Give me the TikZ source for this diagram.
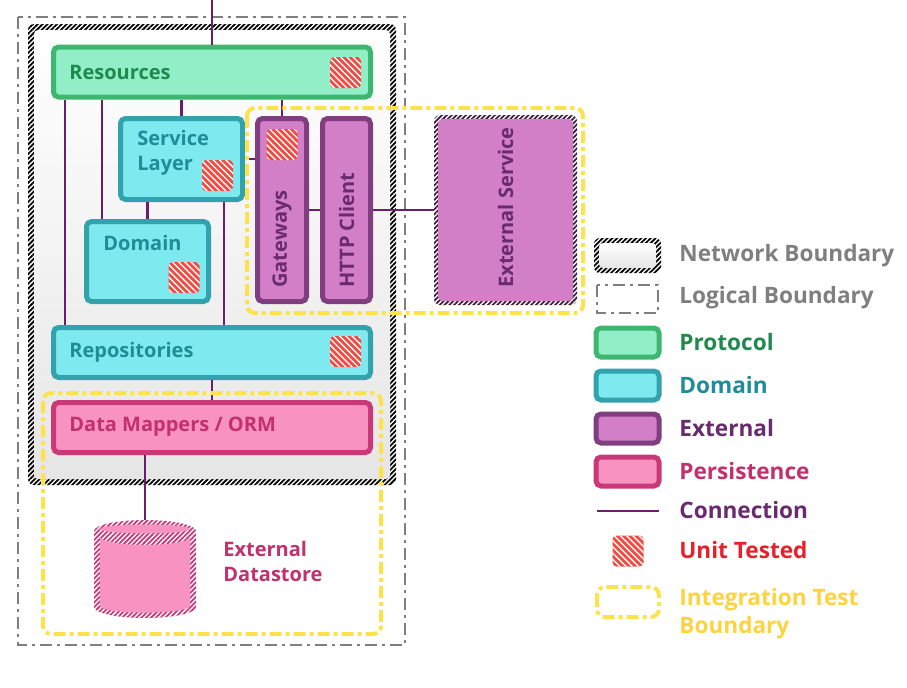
\documentclass[tikz,border=0pt]{standalone}
\usepackage{fontspec}
\usetikzlibrary{patterns.meta,calc}
\newfontfamily\osans{Open Sans}
\definecolor{protf}{HTML}{92EEC6}
\definecolor{protr}{HTML}{3DB66F}
\definecolor{prott}{HTML}{1E8A4E}
\definecolor{domf}{HTML}{7EE9EF}
\definecolor{domr}{HTML}{32A2AC}
\definecolor{domt}{HTML}{1F8C97}
\definecolor{extf}{HTML}{D27FC8}
\definecolor{extr}{HTML}{803D80}
\definecolor{extt}{HTML}{6A2A6E}
\definecolor{persf}{HTML}{F892C0}
\definecolor{persr}{HTML}{C93877}
\definecolor{perst}{HTML}{C2306D}
\definecolor{verb}{HTML}{6B1E6B}
\definecolor{rot}{HTML}{F24A40}
\definecolor{rott}{HTML}{E8202A}
\definecolor{gelb}{HTML}{FDE24C}
\definecolor{gelbt}{HTML}{FFD23F}
\definecolor{grau}{HTML}{7F7F7F}
\definecolor{hgrau}{HTML}{E6E6E6}
\tikzset{
  box/.style={draw,line width=2.5pt,rounded corners=2.5pt,inner sep=0pt},
  prot/.style={box,fill=protf,draw=protr},
  doma/.style={box,fill=domf,draw=domr},
  extn/.style={box,fill=extf,draw=extr},
  pers/.style={box,fill=persf,draw=persr},
  conn/.style={verb,line width=1.3pt},
  unit/.style={rounded corners=2pt,fill=rot,minimum size=15.5pt,inner sep=0pt,
    postaction={pattern={Lines[angle=-45,distance=2.2pt,line width=0.7pt]},pattern color=white}},
  hatch/.style={fill=white,postaction={pattern={Lines[angle=45,distance=1.7pt,line width=0.9pt]},pattern color=#1}},
  lbl/.style={inner sep=0pt,align=left,font=\osans\bfseries\fontsize{10}{12.5}\selectfont},
  leg/.style={inner sep=0pt,anchor=west,align=left,font=\osans\bfseries\fontsize{11.3}{14}\selectfont},
  logik/.style={grau,line width=1.2pt,dash pattern=on 6pt off 2.5pt on 1.5pt off 2.5pt},
  integ/.style={gelb,line width=2pt,rounded corners=4pt,dash pattern=on 6pt off 2pt on 2pt off 2pt},
}
\begin{document}
\begin{tikzpicture}[x=0.5pt,y=-0.5pt]
  \useasboundingbox (0,0) rectangle (907,687);
  % boundaries
  \draw[logik] (18,17) rectangle (405,645);
  \fill[hatch=black,rounded corners=3pt] (28,24) rectangle (396,485);
  \shade[top color=white,bottom color=hgrau,rounded corners=2pt] (34,30) rectangle (390,479);
  % layers
  \node[prot,minimum width=158.5pt,minimum height=25pt] (res) at (212,72) {};
  \node[doma,minimum width=61pt,minimum height=40.5pt] (svc) at (181.5,159) {};
  \node[doma,minimum width=61pt,minimum height=40pt] (dom) at (147.5,261.5) {};
  \node[extn,minimum width=24.5pt,minimum height=91.5pt] (gw) at (282,210) {};
  \node[extn,minimum width=24pt,minimum height=91.5pt] (http) at (346.5,210) {};
  \node[doma,minimum width=158.5pt,minimum height=25pt] (repo) at (212,352.5) {};
  \node[pers,minimum width=158.5pt,minimum height=25pt] (orm) at (212,427.5) {};
  \node[hatch=extr!50!black,rounded corners=3pt,minimum width=71.5pt,minimum height=95pt] (ext) at (505.5,210) {};
  \fill[extf,rounded corners=2pt] ([shift={(2.3pt,-2.3pt)}]ext.north west) rectangle ([shift={(-2.3pt,2.3pt)}]ext.south east);
  % datastore
  \fill[hatch=persr] (94,531) arc[start angle=180,end angle=0,x radius=25.5pt,y radius=5.5pt]
    -- (196,607) arc[start angle=0,end angle=-180,x radius=25.5pt,y radius=5.5pt] -- cycle;
  \fill[persf] (145,529) ellipse[x radius=22.5pt,y radius=2.2pt];
  \fill[persf] (100,537) arc[start angle=180,end angle=360,x radius=22.5pt,y radius=4pt]
    -- (190,606) arc[start angle=0,end angle=-180,x radius=22.5pt,y radius=3.3pt] -- cycle;
  \coordinate (db) at (145,520);
  % labels
  \node[lbl,text=prott,anchor=west] (tres) at (69,72) {Resources};
  \node[lbl,text=domt,anchor=west] (tsvc) at (137,152.5) {Service\\Layer};
  \node[lbl,text=domt,anchor=west] (tdom) at (103,243) {Domain};
  \node[lbl,text=extt,rotate=90,anchor=west] (tgw) at (282,288) {Gateways};
  \node[lbl,text=extt,rotate=90,anchor=west] (thttp) at (346.5,288) {HTTP Client};
  \node[lbl,text=extt,rotate=90,anchor=west] (text) at (505.5,288) {External Service};
  \node[lbl,text=domt,anchor=west] (trepo) at (69,352) {Repositories};
  \node[lbl,text=perst,anchor=west] (torm) at (69,427) {Data Mappers / ORM};
  \node[lbl,text=perst,anchor=west] (tdb) at (223,561) {External\\Datastore};
  % unit tests
  \node[unit] (ures) at (345.5,72.5) {};
  \node[unit] (usvc) at (217.5,175.5) {};
  \node[unit] (udom) at (184,277.5) {};
  \node[unit] (ugw) at (282,144.5) {};
  \node[unit] (urepo) at (345.5,351.5) {};
  % connections
  \coordinate (eingang) at (212,0);
  \coordinate (p1) at ([xshift=7pt]repo.north west);
  \coordinate (p2) at ([xshift=9pt]dom.north west);
  \coordinate (p3) at ([xshift=-10.5pt]svc.south east);
  \draw[conn] (eingang) -- (res.north);
  \draw[conn] (p1) -- (p1 |- res.south);
  \draw[conn] (p2) -- (p2 |- res.south);
  \draw[conn] (svc.north) -- (svc.north |- res.south);
  \draw[conn] (gw.north) -- (gw.north |- res.south);
  \draw[conn] (dom.north) -- (dom.north |- svc.south);
  \draw[conn] (p3) -- (p3 |- repo.north);
  \draw[conn] (svc.east) -- (svc.east -| gw.west);
  \draw[conn] (gw.east) -- (http.west);
  \draw[conn] (http.east) -- (ext.west);
  \draw[conn] (repo.south) -- (orm.north);
  \draw[conn] (db) -- (db |- orm.south);
  % integration boundaries
  \draw[integ] (247,108) rectangle (583,313);
  \draw[integ] (43,393) rectangle (381,634);
  % legend
  \fill[hatch=black,rounded corners=3pt] (594,238) rectangle (661,273);
  \shade[top color=white,bottom color=hgrau,rounded corners=2pt] (599,243) rectangle (656,268);
  \draw[logik] (597,285) rectangle (658,313);
  \draw[box,fill=protf,draw=protr] (596,328) rectangle (659,357);
  \draw[box,fill=domf,draw=domr] (596,371) rectangle (659,400);
  \draw[box,fill=extf,draw=extr] (596,414) rectangle (659,443);
  \draw[box,fill=persf,draw=persr] (596,457) rectangle (659,486);
  \coordinate (ca) at (597,511);
  \coordinate (cb) at (659,511);
  \draw[conn] (ca) -- (cb);
  \node[unit] (uleg) at (628,551) {};
  \draw[integ] (597,587) rectangle (659,617);
  \node[leg,text=grau] (l1) at (679,256) {Network Boundary};
  \node[leg,text=grau] (l2) at (679,298) {Logical Boundary};
  \node[leg,text=prott] (l3) at (679,342) {Protocol};
  \node[leg,text=domt] (l4) at (679,385) {Domain};
  \node[leg,text=extt] (l5) at (679,428) {External};
  \node[leg,text=perst] (l6) at (679,471) {Persistence};
  \node[leg,text=extt] (l7) at (679,510) {Connection};
  \node[leg,text=rott] (l8) at (679,550) {Unit Tested};
  \node[leg,text=gelbt] (l9) at (679,614) {Integration Test\\Boundary};
\end{tikzpicture}
\end{document}
